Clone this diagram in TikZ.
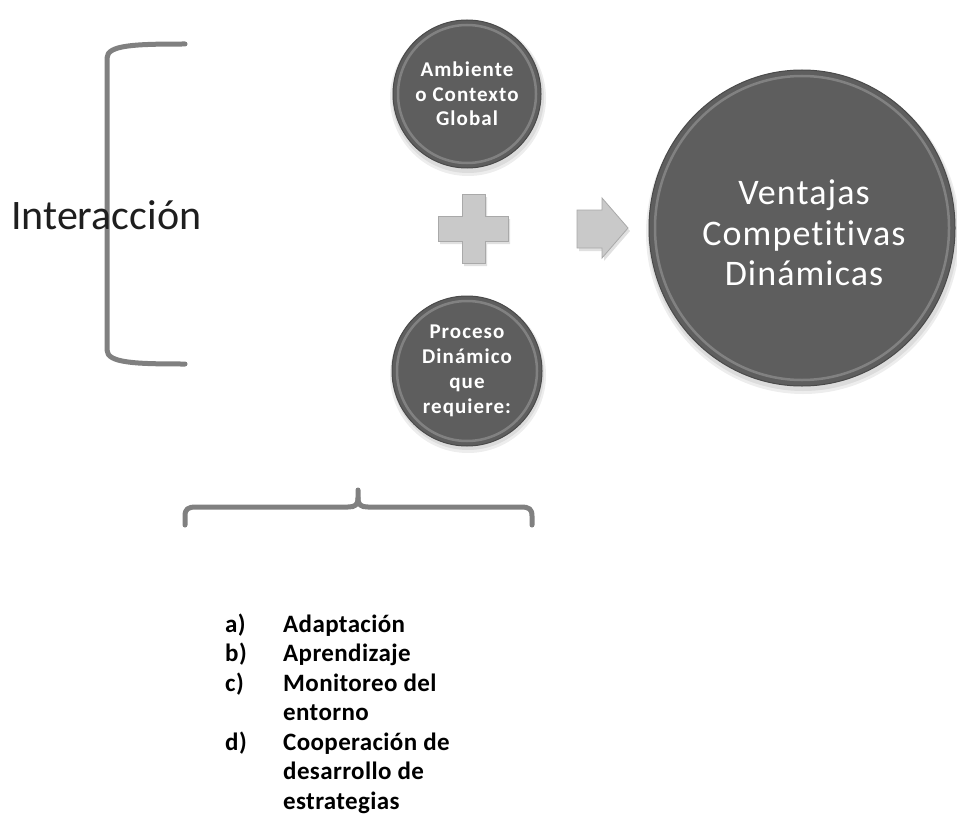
\documentclass[tikz,border=0pt]{standalone}
\usepackage{fontspec}
\setmainfont{Carlito}
\newfontfamily\bubfont{Carlito}[LetterSpace=5, Ligatures=NoCommon]
\newfontfamily\listfont{Carlito}[LetterSpace=1.5, Ligatures=NoCommon]
\newfontfamily\bigfont{Carlito}[LetterSpace=3, Ligatures=NoCommon]
\usetikzlibrary{shapes.geometric}
\definecolor{bubfill}{HTML}{5E5E5E}
\definecolor{bubedge}{HTML}{4A4A4A}
\definecolor{shapefill}{HTML}{C9C9C9}
\definecolor{shapeedge}{HTML}{A9A9A9}
\definecolor{brkcol}{HTML}{808080}
\definecolor{txtdark}{HTML}{1E1E1E}
\tikzset{
  bub/.style={circle, fill=bubfill, draw=bubedge, line width=1pt, text=white, inner sep=0pt, align=center},
  bigbub/.style={ellipse, fill=bubfill, draw=bubedge, line width=1pt, text=white, inner sep=0pt, align=center},
  rim/.style={draw=white, draw opacity=0.22, line width=2.5pt},
  shade1/.style={fill=black, opacity=0.07},
  plusst/.style={fill=shapefill, draw=shapeedge, line width=0.8pt, line join=miter},
  shadowst/.style={fill=black, opacity=0.12},
  brk/.style={draw=brkcol, line width=5pt, line cap=round, line join=round},
  listlab/.style={anchor=base west, inner sep=0pt, font=\listfont\bfseries\fontsize{25}{28}\selectfont, text=black},
}
\begin{document}
\begin{tikzpicture}[x=1pt, y=-1pt]
\useasboundingbox (0,0) rectangle (957,821);
\fill[white] (0,0) rectangle (957,821);

% shadows of bubbles
\fill[shade1] (468,98) circle (78);
\fill[shade1] (468,97) circle (76);
\fill[shade1] (468,375) circle (78);
\fill[shade1] (468,374) circle (76);
\fill[shade1] (803,233) ellipse (157 and 161);
\fill[shade1] (803,232) ellipse (155 and 159);

% bubbles
\node[bub, minimum size=148pt, font=\bubfont\bfseries\fontsize{21}{24.5}\selectfont] (amb) at (467,94) {Ambiente\\o Contexto\\Global};
\draw[rim] (amb.center) circle (69);
\node[bub, minimum size=150pt, font=\bubfont\bfseries\fontsize{21}{25}\selectfont] (proc) at (467,371) {Proceso\\Dinámico\\que\\requiere:};
\draw[rim] (proc.center) circle (70);
\node[bigbub, minimum width=306pt, minimum height=316pt] (vent) at (802,228) {};
\draw[rim] (vent.center) ellipse (147 and 152);
\node[text=white, align=center, inner sep=0pt, font=\bigfont\fontsize{36}{40.5}\selectfont] (venttxt) at (804,233) {Ventajas\\Competitivas\\Dinámicas};

% plus sign
\fill[shadowst] (464,197) -- (487,197) -- (487,219) -- (510,219) -- (510,244) -- (487,244) -- (487,266) -- (464,266) -- (464,244) -- (440,244) -- (440,219) -- (464,219) -- cycle;
\draw[plusst] (462,194) -- (485,194) -- (485,216) -- (508,216) -- (508,241) -- (485,241) -- (485,263) -- (462,263) -- (462,241) -- (438,241) -- (438,216) -- (462,216) -- cycle;
\coordinate (plusc) at (473.5,228.5);

% arrow
\fill[shadowst] (579,213) -- (604,213) -- (604,201) -- (630,231) -- (604,261) -- (604,251) -- (579,251) -- cycle;
\draw[plusst] (577,210) -- (602,210) -- (602,198) -- (628,228) -- (602,258) -- (602,248) -- (577,248) -- cycle;
\coordinate (arrc) at (602,228);

% left bracket
\coordinate (lbt) at (185,44);
\coordinate (lbb) at (185,364);
\draw[brk] (lbt) .. controls (135,44) and (107,45) .. (107,58) -- (107,350) .. controls (107,363) and (135,364) .. (lbb);

% Interaccion
\node[anchor=base west, inner sep=0pt, text=txtdark, font=\fontsize{42}{48}\selectfont] (inter) at (11,229) {Interacción};

% bottom bracket
\coordinate (bbl) at (185,525);
\coordinate (bbr) at (532,525);
\coordinate (bbm) at (358,490);
\draw[brk] (bbl) -- (185,516) .. controls (185,509) and (188,507) .. (196,507) -- (348,507) .. controls (355,507) and (358,505) .. (358,498) -- (bbm);
\draw[brk] (358,498) .. controls (358,505) and (361,507) .. (368,507) -- (521,507) .. controls (529,507) and (532,509) .. (532,516) -- (bbr);

% list
\node[listlab] (la) at (225,632) {a)};
\node[listlab] (ta) at (283,632) {Adaptación};
\node[listlab] (lb) at (225,661.5) {b)};
\node[listlab] (tb) at (283,661.5) {Aprendizaje};
\node[listlab] (lc) at (225,691) {c)};
\node[listlab] (tc) at (283,691) {Monitoreo del};
\node[listlab] (tc2) at (283,720.5) {entorno};
\node[listlab] (ld) at (225,750) {d)};
\node[listlab] (td) at (283,750) {Cooperación de};
\node[listlab] (td2) at (283,779.5) {desarrollo de};
\node[listlab] (td3) at (283,809) {estrategias};
\end{tikzpicture}
\end{document}
